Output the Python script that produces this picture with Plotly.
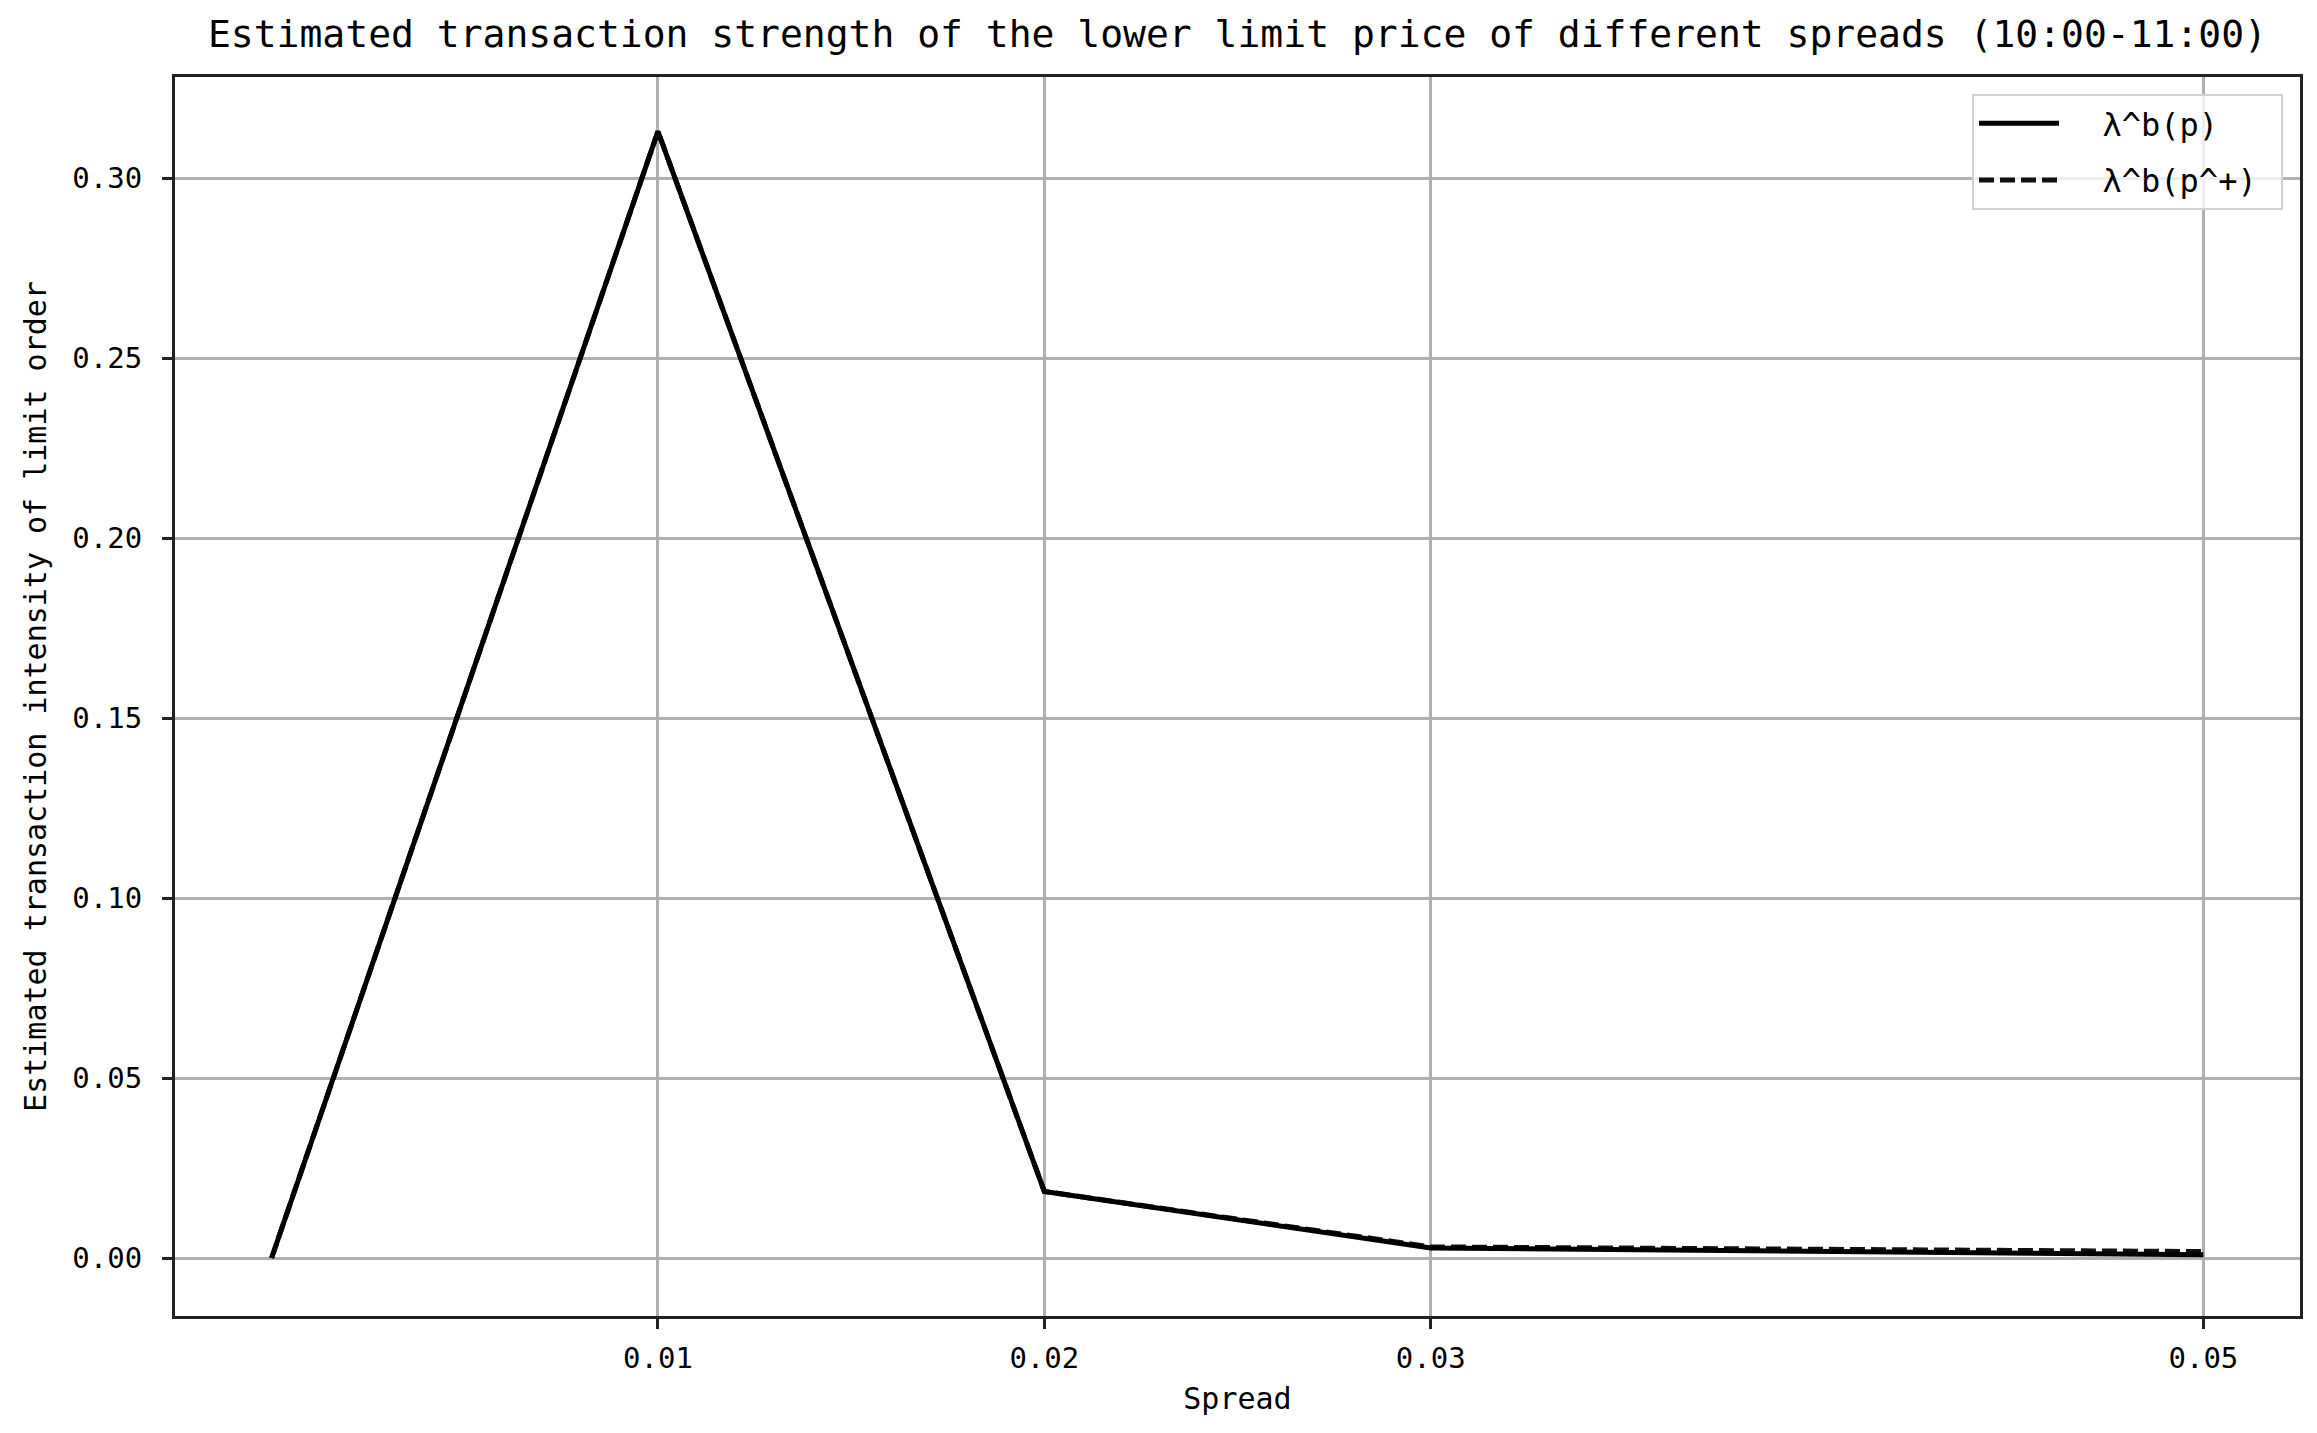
import plotly.graph_objects as go

# Data
spread = [0.0, 0.01, 0.02, 0.03, 0.05]
lambda_b_p = [0.0, 0.3130, 0.0185, 0.0028, 0.0009]
lambda_b_p_plus = [0.0, 0.3130, 0.0185, 0.0031, 0.0018]
x_ticks = [0.01, 0.02, 0.03, 0.05]
y_ticks = [0.00, 0.05, 0.10, 0.15, 0.20, 0.25, 0.30]

title_text = "Estimated transaction strength of the lower limit price of different spreads (10:00-11:00)"
x_title = "Spread"
y_title = "Estimated transaction intensity of limit order"
names = ["λ^b(p)", "λ^b(p^+)"]

FONT = "DejaVu Sans Mono"
NB = "\u00a0"
# page body has an 8px margin, so the figure is drawn 8px in from the window edge
W, H = 2309, 1425
ML, MR, MT, MB = 167, 17, 69, 117

fig = go.Figure()
fig.add_trace(go.Scatter(
    x=spread, y=lambda_b_p_plus, mode="lines", name=NB * 2 + names[1] + NB,
    legendgroup="b", legendrank=2,
    line=dict(color="#111111", width=5, dash="15px,6px"),
))
fig.add_trace(go.Scatter(
    x=spread, y=lambda_b_p, mode="lines", name=NB * 2 + names[0] + NB,
    legendgroup="a", legendrank=1,
    line=dict(color="#000000", width=5),
))

pw = W - ML - MR
ph = H - MT - MB

fig.update_layout(
    width=W, height=H,
    margin=dict(l=ML, r=MR, t=MT, b=MB, pad=0),
    paper_bgcolor="white", plot_bgcolor="white",
    font=dict(family=FONT, color="#000000", size=30),
    title=dict(text=title_text, x=0.5, xref="paper", xanchor="center",
               y=1 - 26 / H, yref="container", yanchor="middle",
               font=dict(family=FONT, size=38, color="#000000")),
    showlegend=True,
    legend=dict(
        traceorder="grouped",
        x=(2275 - ML) / pw, xanchor="right",
        y=1 - (86 - MT) / ph, yanchor="top",
        bordercolor="#d0d0d0", borderwidth=2, bgcolor="rgba(255,255,255,0.8)",
        font=dict(family=FONT, size=32, color="#000000"),
        itemwidth=80,
        tracegroupgap=12,
    ),
)

fig.update_xaxes(
    range=[-0.0025, 0.0525],
    tickmode="array", tickvals=x_ticks, ticktext=[f"{v:.2f}" for v in x_ticks],
    showgrid=True, gridcolor="#b0b0b0", gridwidth=2.5,
    showline=True, linecolor="#222222", linewidth=3, mirror=True,
    ticks="outside", ticklen=10, tickwidth=2.5, tickcolor="#222222",
    tickfont=dict(family=FONT, size=29, color="#000000"),
    ticklabelstandoff=4,
    zeroline=False, automargin=False,
    title=dict(text=x_title, standoff=15, font=dict(family=FONT, size=30, color="#000000")),
)
fig.update_yaxes(
    range=[-0.0161, 0.3281],
    tickmode="array", tickvals=y_ticks, ticktext=[f"{v:.2f}" for v in y_ticks],
    showgrid=True, gridcolor="#b0b0b0", gridwidth=2.5,
    showline=True, linecolor="#222222", linewidth=3, mirror=True,
    ticks="outside", ticklen=10, tickwidth=2.5, tickcolor="#222222",
    tickfont=dict(family=FONT, size=29, color="#000000"),
    ticklabelstandoff=14,
    zeroline=False, automargin=False,
    title=dict(text=y_title, standoff=17, font=dict(family=FONT, size=30, color="#000000")),
)

fig.write_html("out.html")
